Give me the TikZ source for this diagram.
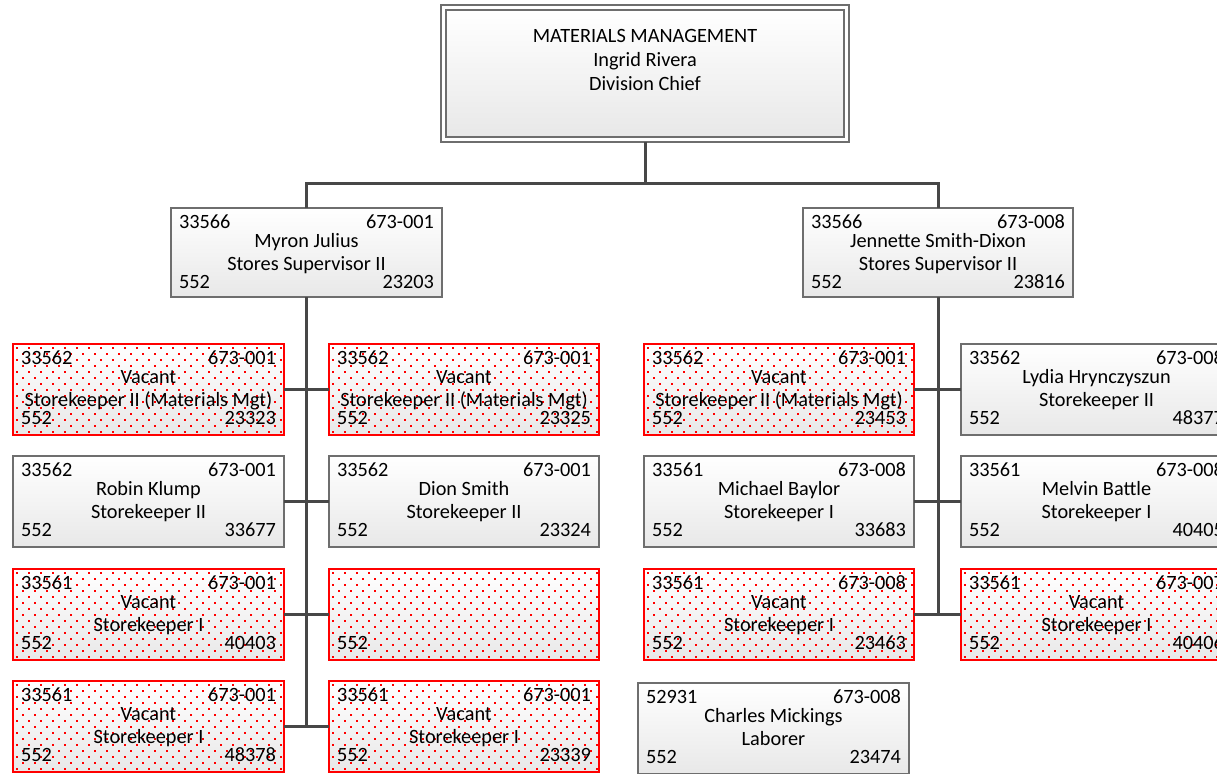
\documentclass[tikz,border=0pt]{standalone}
\usepackage{fontspec}
\setmainfont{Carlito}
\usetikzlibrary{fit}
\definecolor{boxgray}{HTML}{6E6E6E}
\definecolor{conngray}{HTML}{474747}
\definecolor{fillbot}{HTML}{E8E8E8}
\definecolor{vred}{HTML}{FF0000}
\tikzset{
  base/.style={inner sep=0pt, outer sep=0pt, anchor=north west, minimum height=91pt,
    top color=white, bottom color=fillbot},
  posbox/.style={base, draw=boxgray, line width=1.2pt},
  vbox/.style={base, draw=vred, line width=2.9pt},
  txt/.style={inner sep=0pt, outer sep=0pt, font=\fontsize{20.3}{24}\selectfont, text=black},
  conn/.style={draw=conngray, line width=3pt, line join=miter},
  topbox/.style={draw=boxgray, line width=1.1pt, inner sep=0pt, outer sep=0pt, anchor=north west,
    top color=white, bottom color=fillbot, minimum width=398pt, minimum height=127pt},
  outerbox/.style={draw=boxgray, line width=1.1pt, inner sep=5pt, outer sep=0pt}
}
\newcommand\info[7]{%
  \node[txt,anchor=base west] at ([shift={(8pt,-20pt)}]#1.north west) {#2};
  \node[txt,anchor=base east] at ([shift={(-8pt,-20pt)}]#1.north east) {#3};
  \node[txt,anchor=base] at ([yshift=-39pt]#1.north) {#4};
  \node[txt,anchor=base] at ([yshift=-62pt]#1.north) {#5};
  \node[txt,anchor=base west] at ([shift={(8pt,-80pt)}]#1.north west) {#6};
  \node[txt,anchor=base east] at ([shift={(-8pt,-80pt)}]#1.north east) {#7};
}
\newcommand\vacbox[4]{%
  \node[vbox, minimum width=#4pt] (#1) at (#2,#3) {};
  \begin{scope}
    \clip (#1.south west) rectangle (#1.north east);
    \foreach \j in {0,...,15}{
      \foreach \i in {0,...,23}{
        \fill[vred] ({#2+3+12*\i+6*mod(\j,2)},{#3+3+6*\j}) rectangle ++(1.9,1.9);
      }
    }
  \end{scope}
}
\begin{document}
\begin{tikzpicture}[x=1pt,y=-1pt]
\useasboundingbox (0,0) rectangle (1217,773);
\clip (0,0) rectangle (1217,773);
\fill[white] (0,0) rectangle (1217,773);

% top box
\node[topbox] (top) at (446,10) {};
\node[outerbox, fit=(top)] (topo) {};
\node[txt,anchor=base] at ([yshift=-33pt]top.north) {MATERIALS MANAGEMENT};
\node[txt,anchor=base] at ([yshift=-57pt]top.north) {Ingrid Rivera};
\node[txt,anchor=base] at ([yshift=-81pt]top.north) {Division Chief};

% supervisors
\node[posbox, minimum width=271pt, minimum height=89pt] (S1) at (171,208) {};
\node[posbox, minimum width=270pt, minimum height=89pt] (S2) at (803,208) {};

% left group
\vacbox{L1}{13}{344}{271}
\node[posbox, minimum width=271pt] (L2) at (13,456) {};
\vacbox{L3}{13}{569}{271}
\vacbox{L4}{13}{681}{271}
\vacbox{M1}{329}{344}{270}
\node[posbox, minimum width=270pt] (M2) at (329,456) {};
\vacbox{M3}{329}{569}{270}
\vacbox{M4}{329}{681}{270}

% right group
\vacbox{R1}{644}{344}{270}
\node[posbox, minimum width=270pt] (R2) at (644,456) {};
\vacbox{R3}{644}{569}{270}
\node[posbox, minimum width=271pt] (Q1) at (961,344) {};
\node[posbox, minimum width=271pt] (Q2) at (961,456) {};
\vacbox{Q3}{961}{569}{271}
\node[posbox, minimum width=271pt] (CM) at (638,683) {};

% connectors
\coordinate (bus) at (644,183);
\draw[conn] (topo.south) -- (topo.south |- bus);
\draw[conn] (S1.north) |- (bus) -| (S2.north);
\draw[conn] (S1.south) -- (S1.south |- L4.east);
\draw[conn] (L1.east) -- (M1.west);
\draw[conn] (L2.east) -- (M2.west);
\draw[conn] (L3.east) -- (M3.west);
\draw[conn] (L4.east) -- (M4.west);
\draw[conn] (S2.south) -- (S2.south |- R3.east);
\draw[conn] (R1.east) -- (Q1.west);
\draw[conn] (R2.east) -- (Q2.west);
\draw[conn] (R3.east) -- (Q3.west);

% texts
\info{S1}{33566}{673-001}{Myron Julius}{Stores Supervisor II}{552}{23203}
\info{S2}{33566}{673-008}{Jennette Smith-Dixon}{Stores Supervisor II}{552}{23816}
\info{L1}{33562}{673-001}{Vacant}{Storekeeper II (Materials Mgt)}{552}{23323}
\info{M1}{33562}{673-001}{Vacant}{Storekeeper II (Materials Mgt)}{552}{23325}
\info{L2}{33562}{673-001}{Robin Klump}{Storekeeper II}{552}{33677}
\info{M2}{33562}{673-001}{Dion Smith}{Storekeeper II}{552}{23324}
\info{L3}{33561}{673-001}{Vacant}{Storekeeper I}{552}{40403}
\info{M3}{}{}{}{}{552}{}
\info{L4}{33561}{673-001}{Vacant}{Storekeeper I}{552}{48378}
\info{M4}{33561}{673-001}{Vacant}{Storekeeper I}{552}{23339}
\info{R1}{33562}{673-001}{Vacant}{Storekeeper II (Materials Mgt)}{552}{23453}
\info{R2}{33561}{673-008}{Michael Baylor}{Storekeeper I}{552}{33683}
\info{R3}{33561}{673-008}{Vacant}{Storekeeper I}{552}{23463}
\info{Q1}{33562}{673-008}{Lydia Hrynczyszun}{Storekeeper II}{552}{48377}
\info{Q2}{33561}{673-008}{Melvin Battle}{Storekeeper I}{552}{40405}
\info{Q3}{33561}{673-007}{Vacant}{Storekeeper I}{552}{40406}
\info{CM}{52931}{673-008}{Charles Mickings}{Laborer}{552}{23474}
\end{tikzpicture}
\end{document}
